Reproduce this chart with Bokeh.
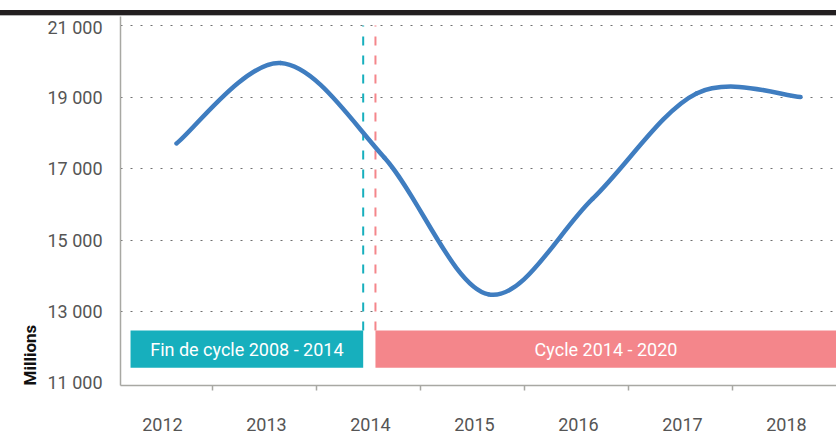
import numpy as np
from bokeh.plotting import figure
from bokeh.models import FixedTicker, Title, Div, CustomJSTickFormatter
from bokeh.layouts import column
from bokeh.embed import file_html
from bokeh.resources import INLINE
from bokeh.core.properties import value

# ---- data ----
years = [2012, 2013, 2014, 2015, 2016, 2017, 2018]
values = [17700, 19950, 17300, 13480, 16150, 19100, 19000]
y_ticks = [11000, 13000, 15000, 17000, 19000, 21000]
y_tick_labels = ["11 000", "13 000", "15 000", "17 000", "19 000", "21 000"]
cycle_labels = ["Fin de cycle 2008 - 2014", "Cycle 2014 - 2020"]

# ---- layout constants (positions / styles) ----
FONT = "Roboto"
LABEL_SHIFT = -0.135
BOUNDARY_SHIFT = 0.35
X_RANGE = (2011.4615, 2018.346)
Y_RANGE = (10930, 21252)
CYAN = "#17afbd"
PINK = "#f4868b"
BLUE = "#3f7dc0"
AXIS_GRAY = "#a8a8a3"
TEXT_GRAY = "#555555"
box_left = [2011.558, 2013.913]
box_right = [2013.795, 2018.6]
box_bottom = 11430
box_top = 12470
split_x = [2013.795, 2013.913]

p = figure(frame_width=716, frame_height=369, x_range=X_RANGE, y_range=Y_RANGE,
           output_backend="svg", toolbar_location=None,
           min_border_left=120, min_border_right=0, min_border_top=0, min_border_bottom=0)
p.title.visible = False
p.outline_line_color = None
p.background_fill_color = "white"
p.border_fill_color = "white"

# grid
p.xgrid.visible = False
p.ygrid.ticker = FixedTicker(ticks=[t for t in y_ticks if t > y_ticks[0]])
p.ygrid.grid_line_color = "#707070"
p.ygrid.grid_line_dash = "2 8"
p.ygrid.grid_line_width = 1.2

# cycle boxes
p.quad(left=box_left, right=box_right, bottom=box_bottom, top=box_top,
       fill_color=[CYAN, PINK], line_color=None)
p.text(x=[(box_left[0] + box_right[0]) / 2, (box_left[1] + X_RANGE[1]) / 2],
       y=[(box_bottom + box_top) / 2] * 2, text=cycle_labels,
       text_font=value(FONT), text_font_size="18px", text_color="white",
       text_align="center", text_baseline="middle")

# dashed separators
p.segment(x0=split_x, x1=split_x, y0=box_top, y1=y_ticks[-1],
          line_color=[CYAN, PINK], line_width=2, line_dash="9 10")

# smooth line (Catmull-Rom bezier segments computed from the data)
x = np.array(years, dtype=float)
y = np.array(values, dtype=float)
xp = np.r_[x[0], x, x[-1]]
yp = np.r_[y[0], y, y[-1]]
n = len(x)
x0, y0, x1, y1, cx0, cy0, cx1, cy1 = [], [], [], [], [], [], [], []
for i in range(n - 1):
    x0.append(x[i]); y0.append(y[i]); x1.append(x[i + 1]); y1.append(y[i + 1])
    cx0.append(x[i] + (xp[i + 2] - xp[i]) / 6)
    cy0.append(y[i] + (yp[i + 2] - yp[i]) / 6)
    cx1.append(x[i + 1] - (xp[i + 3] - xp[i + 1]) / 6)
    cy1.append(y[i + 1] - (yp[i + 3] - yp[i + 1]) / 6)
p.bezier(x0=x0, y0=y0, x1=x1, y1=y1, cx0=cx0, cy0=cy0, cx1=cx1, cy1=cy1,
         line_color=BLUE, line_width=4.5, line_cap="round")

# x axis
xa = p.xaxis[0]
xa.ticker = FixedTicker(ticks=[yr + LABEL_SHIFT for yr in years],
                        minor_ticks=[yr + BOUNDARY_SHIFT for yr in years[:-1]])
xa.formatter = CustomJSTickFormatter(code="return String(Math.round(tick));")
xa.axis_line_color = AXIS_GRAY
xa.axis_line_width = 1.5
xa.major_tick_out = 0
xa.major_tick_in = 0
xa.minor_tick_out = 5
xa.minor_tick_in = 0
xa.minor_tick_line_color = AXIS_GRAY
xa.minor_tick_line_width = 1.5
xa.major_label_standoff = 27
xa.major_label_text_font = FONT
xa.major_label_text_font_size = "18px"
xa.major_label_text_color = TEXT_GRAY

# y axis
ya = p.yaxis[0]
ya.ticker = FixedTicker(ticks=y_ticks)
ya.major_label_overrides = {t: l for t, l in zip(y_ticks, y_tick_labels)}
ya.axis_line_color = AXIS_GRAY
ya.axis_line_width = 1.5
ya.major_tick_out = 0
ya.major_tick_in = 0
ya.minor_tick_out = 0
ya.minor_tick_in = 0
ya.major_label_standoff = 18
ya.major_label_text_font = FONT
ya.major_label_text_font_size = "18px"
ya.major_label_text_color = TEXT_GRAY

t = Title(text="Millions", align="left", text_font=FONT,
          text_font_size="17px", text_font_style="bold", text_color="#111111")
p.add_layout(t, "left")

bar = Div(text="", width=836, height=5, margin=(10, 0, 1, 0),
          styles={"background-color": "#231f20", "box-shadow": "0 1px 0 #b5b5b5"})

layout = column(bar, p, spacing=0)
open("out.html", "w").write(file_html(layout, INLINE))
